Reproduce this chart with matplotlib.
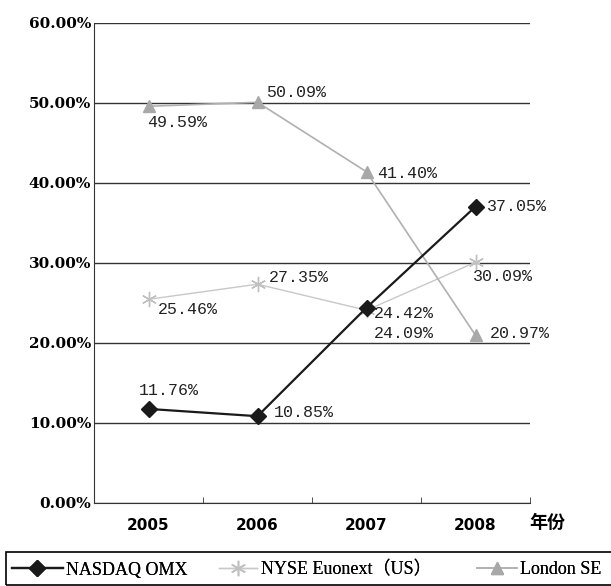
import matplotlib
matplotlib.use("Agg")
from matplotlib import pyplot as plt
from matplotlib.patches import Rectangle

anos = ["2005", "2006", "2007", "2008"]
nasdaq = [11.76, 10.85, 24.42, 37.05]
nyse = [25.46, 27.35, 24.09, 30.09]
london = [49.59, 50.09, 41.40, 20.97]
yticks = [0, 10, 20, 30, 40, 50, 60]
nomes = ["NASDAQ OMX", "NYSE Euonext（US）", "London SE"]

# deslocamentos (pontos) dos rótulos de cada valor
off_nasdaq = [(-7, 13), (12, 3), (5, -4), (8, 0)]
off_nyse = [(7, -7), (8, 5), (5, -17), (-2, -10)]
off_london = [(-1, -12), (6, 7), (8, -1), (10, 1)]

fig = plt.figure(figsize=(6.11, 5.86), dpi=100)
ax = fig.add_axes([94 / 611, 1 - 503 / 586, 436 / 611, 480 / 586])

x = list(range(len(anos)))
l1, = ax.plot(x, nasdaq, color="#1a1a1a", lw=1.6, marker="D", ms=8, zorder=4)
l2, = ax.plot(x, nyse, color="#c8c8c8", lw=1.0, marker=(6, 2, 0), ms=11,
              mec="#c0c0c0", zorder=3)
l3, = ax.plot(x, london, color="#b0b0b0", lw=1.2, marker="^", ms=9,
              mfc="#a8a8a8", mec="#a8a8a8", zorder=3)

lab_font = dict(family="Liberation Mono", fontsize=12, color="#222222")
for serie, offs in [(nasdaq, off_nasdaq), (nyse, off_nyse), (london, off_london)]:
    for xi, v, off in zip(x, serie, offs):
        ax.annotate(f"{v:.2f}%", (xi, v), xytext=off, textcoords="offset points",
                    ha="left", va="center", **lab_font)

ax.set_xlim(-0.5, 3.5)
ax.set_ylim(0, 60)
ax.set_yticks(yticks)
ax.set_yticklabels([f"{t:.2f}%" for t in yticks], fontsize=11, fontweight="bold",
                   family="DejaVu Serif")
ax.set_xticks(x)
ax.set_xticklabels(anos, fontsize=11, fontweight="bold", family="DejaVu Sans")
ax.tick_params(axis="x", length=0, pad=11)
ax.set_xticks([0.5, 1.5, 2.5, 3.5], minor=True)
ax.tick_params(axis="x", which="minor", direction="in", length=4, color="#333333")
ax.tick_params(axis="y", length=0, pad=2)
ax.grid(axis="y", color="#333333", lw=1.0)
ax.set_axisbelow(True)
for s in ["top", "right"]:
    ax.spines[s].set_visible(False)
ax.spines["left"].set_color("#333333")
ax.spines["bottom"].set_color("#333333")

fig.text(547 / 611, 1 - 522 / 586, "年份", fontsize=13, fontweight="bold",
         family=["Noto Sans CJK SC", "DejaVu Sans"], ha="center", va="center")

# caixa da legenda, cortada à direita como no original
fig.patches.append(Rectangle((6 / 611, 1 / 586), 620 / 611, 33 / 586,
                             transform=fig.transFigure, fill=False,
                             edgecolor="black", lw=1.2))
leg_x = [12, 219, 477]
leg_hl = [2.8, 2.1, 2.2]
for linha, nome, px, hl in zip([l1, l2, l3], nomes, leg_x, leg_hl):
    lg = fig.legend([linha], [nome], loc="center left",
                    bbox_to_anchor=(px / 611, 1 - 570 / 586), frameon=False,
                    prop={"family": ["Liberation Serif", "Noto Sans CJK SC"], "size": 13},
                    handlelength=hl, handletextpad=0.2, borderpad=0, borderaxespad=0)
    fig.add_artist(lg)

fig.savefig("out.png", dpi=100)
